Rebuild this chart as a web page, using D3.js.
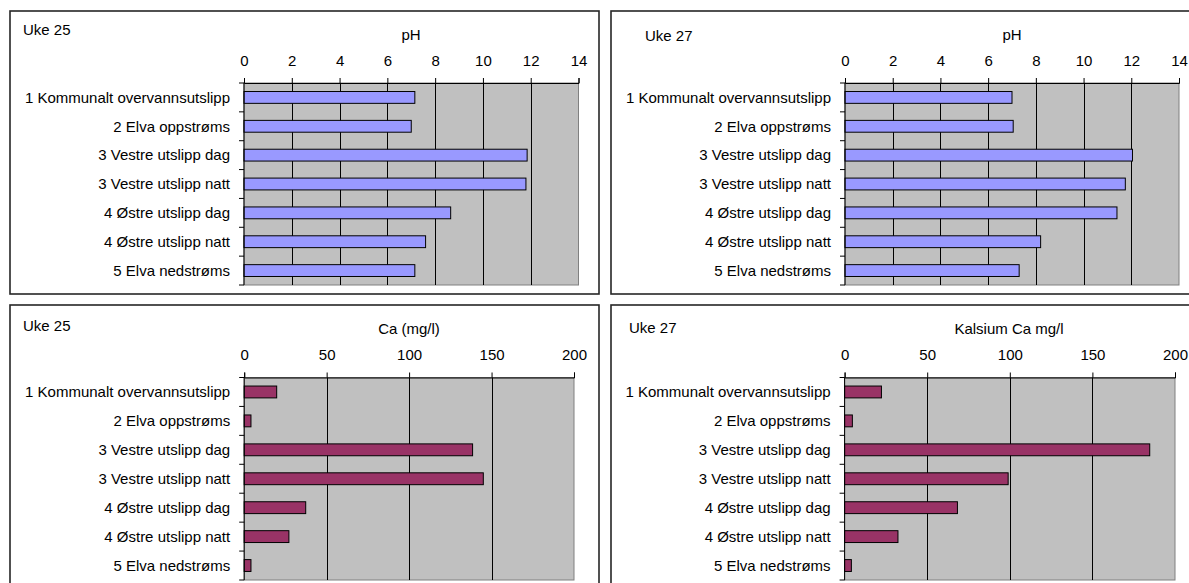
<!DOCTYPE html>
<html><head><meta charset="utf-8">
<script src="https://cdn.jsdelivr.net/npm/d3@7"></script>
<style>
html,body{margin:0;padding:0;background:#fff;}
svg{display:block;font-family:"Liberation Sans",Arial,sans-serif;}
</style></head>
<body>
<svg id="chart" width="1189" height="583"></svg>
<script>
const categories = ["1 Kommunalt overvannsutslipp", "2 Elva oppstrøms", "3 Vestre utslipp dag", "3 Vestre utslipp natt", "4 Østre utslipp dag", "4 Østre utslipp natt", "5 Elva nedstrøms"];
const phUke25 = [7.15, 7.0, 11.85, 11.8, 8.65, 7.6, 7.15];
const phUke27 = [7.0, 7.05, 12.05, 11.75, 11.4, 8.2, 7.3];
const caUke25 = [19.7, 4.1, 138.5, 145, 37.3, 27.1, 4.1];
const caUke27 = [22.3, 4.7, 184.7, 99, 68.3, 32.3, 4.1];
const phTicks = [0, 2, 4, 6, 8, 10, 12, 14];
const caTicks = [0, 50, 100, 150, 200];
const weekLabels = ["Uke 25", "Uke 27"];
const titles = ["pH", "pH", "Ca (mg/l)", "Kalsium Ca mg/l"];

const FS = 15;
const svg = d3.select("#chart");

// panel frames
const frames = [
  {x: 10, y: 11, w: 589, h: 283},
  {x: 611, y: 11, w: 600, h: 283},
  {x: 10, y: 305, w: 589, h: 300},
  {x: 611, y: 305, w: 600, h: 300}
];
frames.forEach(f => {
  svg.append("rect").attr("x", f.x).attr("y", f.y).attr("width", f.w).attr("height", f.h)
    .attr("fill", "#fff").attr("stroke", "#262626").attr("stroke-width", 1.6);
});

const panels = [
  {values: phUke25, ticks: phTicks, title: titles[0], week: weekLabels[0], color: "#9999FF",
   x0: 244, x1: 578.5, y0: 83, y1: 285, weekX: 23, weekY: 35, titleX: 411, titleY: 39.5, tickY: 66},
  {values: phUke27, ticks: phTicks, title: titles[1], week: weekLabels[1], color: "#9999FF",
   x0: 845, x1: 1179, y0: 83, y1: 285, weekX: 645, weekY: 41, titleX: 1012, titleY: 39.5, tickY: 66},
  {values: caUke25, ticks: caTicks, title: titles[2], week: weekLabels[0], color: "#993366",
   x0: 244.2, x1: 574, y0: 377.5, y1: 580, weekX: 23, weekY: 331, titleX: 409, titleY: 334, tickY: 360},
  {values: caUke27, ticks: caTicks, title: titles[3], week: weekLabels[1], color: "#993366",
   x0: 844.6, x1: 1175, y0: 377.5, y1: 580, weekX: 629, weekY: 332.5, titleX: 1009, titleY: 334, tickY: 360}
];

panels.forEach(p => {
  const g = svg.append("g");
  const x = d3.scaleLinear().domain([p.ticks[0], p.ticks[p.ticks.length - 1]]).range([p.x0, p.x1]);
  const y = d3.scaleBand().domain(categories).range([p.y0, p.y1]).paddingInner(0).paddingOuter(0);
  const bw = y.bandwidth();
  const bh = bw * 0.41;

  // plot background
  g.append("rect").attr("x", p.x0).attr("y", p.y0).attr("width", p.x1 - p.x0).attr("height", p.y1 - p.y0)
    .attr("fill", "#C0C0C0").attr("stroke", "#808080").attr("stroke-width", 1);

  // gridlines
  g.selectAll("line.grid").data(p.ticks.slice(1, -1)).enter().append("line")
    .attr("x1", d => Math.round(x(d)) + 0.5).attr("x2", d => Math.round(x(d)) + 0.5)
    .attr("y1", p.y0).attr("y2", p.y1).attr("stroke", "#000").attr("stroke-width", 1);

  // bars
  g.selectAll("rect.bar").data(p.values).enter().append("rect")
    .attr("x", x(0)).attr("y", (d, i) => y(categories[i]) + (bw - bh) / 2)
    .attr("width", d => x(d) - x(0)).attr("height", bh)
    .attr("fill", p.color).attr("stroke", "#000").attr("stroke-width", 1);

  // top axis
  const ax = d3.axisTop(x).tickValues(p.ticks).tickSize(5).tickPadding(p.y0 - 5 - p.tickY).tickFormat(d3.format("d"));
  const axg = g.append("g").attr("transform", `translate(0,${p.y0})`).call(ax);
  axg.select(".domain").attr("stroke", "#000");
  axg.selectAll(".tick line").attr("stroke", "#000");
  axg.selectAll(".tick text").attr("font-size", FS).attr("fill", "#000")
    .attr("font-family", "Liberation Sans, Arial, sans-serif");

  // left axis (category boundaries)
  const bounds = categories.map(c => y(c)).concat([p.y1]);
  g.append("line").attr("x1", p.x0).attr("x2", p.x0).attr("y1", p.y0).attr("y2", p.y1).attr("stroke", "#000");
  g.selectAll("line.ctick").data(bounds).enter().append("line")
    .attr("x1", p.x0 - 5).attr("x2", p.x0).attr("y1", d => d).attr("y2", d => d).attr("stroke", "#000");

  // category labels
  g.selectAll("text.cat").data(categories).enter().append("text")
    .attr("x", p.x0 - 14).attr("y", d => y(d) + bw / 2).attr("dy", "0.35em")
    .attr("text-anchor", "end").attr("font-size", FS).attr("fill", "#000").text(d => d);

  // week label and title
  g.append("text").attr("x", p.weekX).attr("y", p.weekY).attr("font-size", FS).text(p.week);
  g.append("text").attr("x", p.titleX).attr("y", p.titleY).attr("text-anchor", "middle").attr("font-size", FS).text(p.title);
});
</script>
</body></html>
